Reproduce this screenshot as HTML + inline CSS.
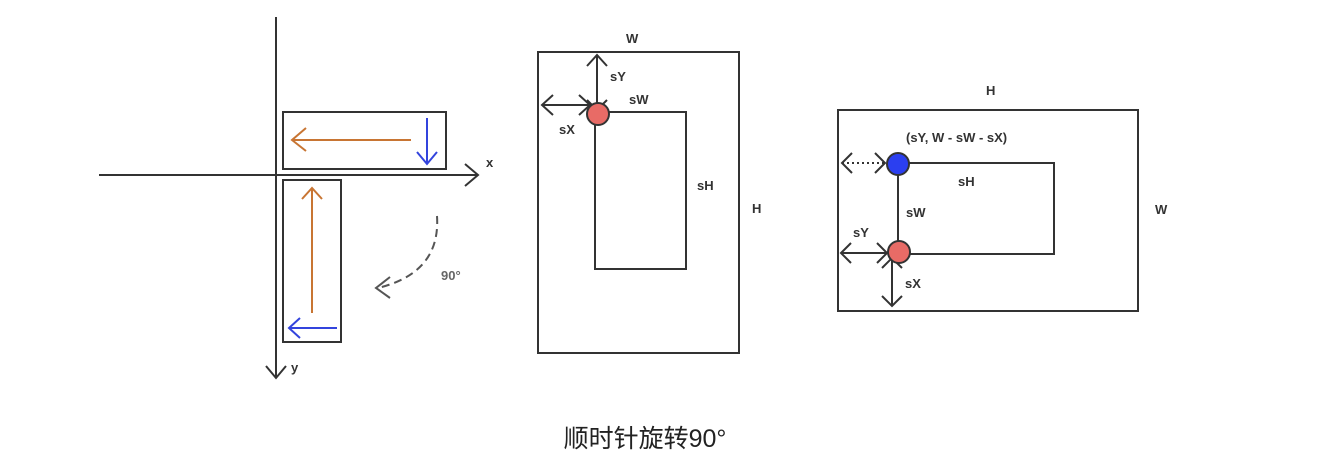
<!DOCTYPE html>
<html><head><meta charset="utf-8"><style>
html,body{margin:0;padding:0;background:#fff;}
svg{display:block}
text{font-family:"Liberation Sans","Noto Sans CJK SC",sans-serif;font-weight:bold;fill:#333;font-size:13px}
</style></head><body>
<svg width="1340" height="468" viewBox="0 0 1340 468" xmlns="http://www.w3.org/2000/svg">
<g fill="none" stroke="#333" stroke-width="2">
<!-- left axes -->
<line x1="276" y1="17" x2="276" y2="378"/>
<line x1="99" y1="175" x2="478" y2="175"/>
<polyline points="465,164 478,175 465,186"/>
<polyline points="266,366 276,378 286,366"/>
<rect x="283" y="112" width="163" height="57"/>
<rect x="283" y="180" width="58" height="162"/>
</g>
<g fill="none" stroke="#c87533" stroke-width="2">
<line x1="411" y1="140" x2="292" y2="140"/>
<polyline points="306,128 292,140 306,151"/>
<line x1="312" y1="313" x2="312" y2="188"/>
<polyline points="302,199 312,188 322,199"/>
</g>
<g fill="none" stroke="#3344dd" stroke-width="2">
<line x1="427" y1="118" x2="427" y2="164"/>
<polyline points="417,152 427,164 437,152"/>
<line x1="337" y1="328" x2="289" y2="328"/>
<polyline points="300,318 289,328 300,338"/>
</g>
<g fill="none" stroke="#555" stroke-width="2">
<path d="M437,216 C440,262 410,280 378,288" stroke-dasharray="8,5"/>
<polyline points="390,277 376,288 390,298"/>
</g>
<text x="441" y="280" fill="#666" style="fill:#666">90°</text>
<text x="486" y="167">x</text>
<text x="291" y="372">y</text>

<!-- middle -->
<g fill="none" stroke="#333" stroke-width="2">
<rect x="538" y="52" width="201" height="301"/>
<rect x="595" y="112" width="91" height="157"/>
<line x1="597" y1="55" x2="597" y2="110"/>
<polyline points="587,66 597,55 607,66"/>
<polyline points="587,100 597,110 607,100"/>
<line x1="542" y1="105" x2="590" y2="105"/>
<polyline points="553,95 542,105 553,115"/>
<polyline points="579,95 590,105 579,115"/>
</g>
<circle cx="598" cy="114" r="11" fill="#e86b66" stroke="#333" stroke-width="2"/>
<text x="626" y="43">W</text>
<text x="610" y="81">sY</text>
<text x="629" y="104">sW</text>
<text x="559" y="134">sX</text>
<text x="697" y="190">sH</text>
<text x="752" y="213">H</text>

<!-- right -->
<g fill="none" stroke="#333" stroke-width="2">
<rect x="838" y="110" width="300" height="201"/>
<polyline points="898,163 1054,163 1054,254 898,254 898,163"/>
<line x1="842" y1="163" x2="885" y2="163" stroke-dasharray="2,3"/>
<polyline points="852,153 842,163 852,173"/>
<polyline points="875,153 885,163 875,173"/>
<line x1="841" y1="253" x2="887" y2="253"/>
<polyline points="851,243 841,253 851,263"/>
<polyline points="877,243 887,253 877,263"/>
<line x1="892" y1="258" x2="892" y2="306"/>
<polyline points="882,268 892,258 902,268"/>
<polyline points="882,296 892,306 902,296"/>
</g>
<circle cx="898" cy="164" r="11" fill="#2b3ff0" stroke="#333" stroke-width="2"/>
<circle cx="899" cy="252" r="11" fill="#e86b66" stroke="#333" stroke-width="2"/>
<text x="986" y="95">H</text>
<text x="906" y="142">(sY, W - sW - sX)</text>
<text x="958" y="186">sH</text>
<text x="906" y="217">sW</text>
<text x="1155" y="214">W</text>
<text x="853" y="237">sY</text>
<text x="905" y="288">sX</text>

<text x="645" y="447" text-anchor="middle" style="font-size:25px;font-weight:normal;fill:#222">顺时针旋转90°</text>
</svg>
</body></html>
